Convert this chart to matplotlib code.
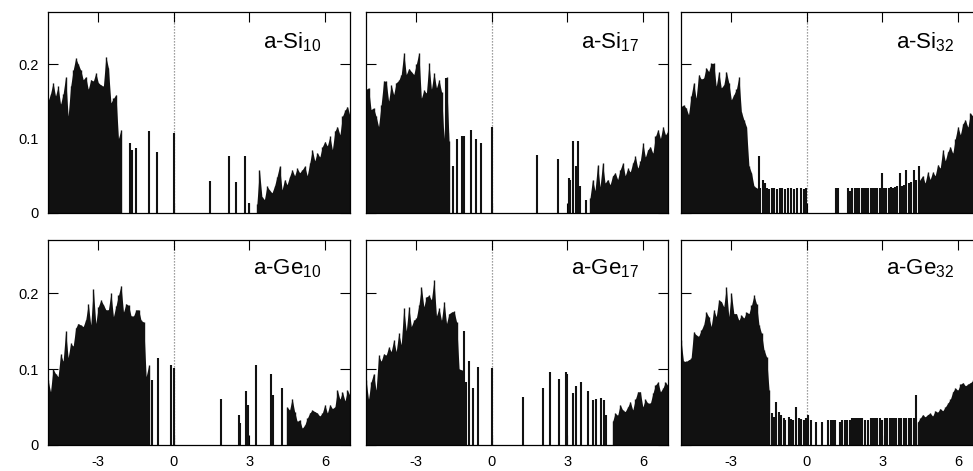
import numpy as np
import matplotlib
matplotlib.use('Agg')
import matplotlib.pyplot as plt

plt.rcParams['font.family'] = ['Liberation Sans', 'DejaVu Sans']
plt.rcParams['mathtext.fontset'] = 'custom'
plt.rcParams['mathtext.rm'] = 'Liberation Sans'
plt.rcParams['mathtext.it'] = 'Liberation Sans:italic'
plt.rcParams['axes.unicode_minus'] = False

step = 0.1  # energy grid of the dense bands (eV)

# ---- a-Si10 ----
si10_vb_start = -5.0
si10_vb = [0.150, 0.160, 0.175, 0.157, 0.170, 0.146, 0.160, 0.183, 0.130, 0.170,
           0.192, 0.208, 0.200, 0.192, 0.179, 0.183, 0.166, 0.179, 0.177, 0.188,
           0.175, 0.172, 0.170, 0.210, 0.195, 0.148, 0.154, 0.159, 0.100, 0.112]
si10_cb_start = 3.3
si10_cb = [0.012, 0.058, 0.022, 0.018, 0.036, 0.031, 0.027, 0.036, 0.049, 0.063,
           0.031, 0.045, 0.038, 0.049, 0.058, 0.050, 0.060, 0.054, 0.058, 0.063,
           0.050, 0.067, 0.085, 0.070, 0.081, 0.075, 0.089, 0.096, 0.090, 0.103,
           0.085, 0.110, 0.116, 0.105, 0.130, 0.138, 0.143, 0.130]
si10_sp_x = [-1.75, -1.65, -1.5, -0.99, -0.66, 0.0, 1.45, 2.21, 2.49, 2.83, 2.99]
si10_sp_h = [0.094, 0.084, 0.087, 0.110, 0.082, 0.108, 0.043, 0.077, 0.041, 0.077, 0.013]

# ---- a-Si17 ----
si17_vb_start = -5.0
si17_vb = [0.166, 0.168, 0.139, 0.141, 0.130, 0.116, 0.145, 0.177, 0.177, 0.150,
           0.172, 0.159, 0.175, 0.178, 0.186, 0.215, 0.186, 0.194, 0.190, 0.186,
           0.200, 0.215, 0.154, 0.165, 0.161, 0.201, 0.166, 0.188, 0.168, 0.179,
           0.163, 0.100, 0.183, 0.097]
si17_cb_start = 3.9
si17_cb = [0.020, 0.045, 0.030, 0.065, 0.035, 0.067, 0.040, 0.045, 0.038, 0.050,
           0.054, 0.045, 0.058, 0.067, 0.050, 0.060, 0.055, 0.067, 0.076, 0.060,
           0.070, 0.094, 0.075, 0.085, 0.089, 0.080, 0.103, 0.112, 0.100, 0.116,
           0.105, 0.110]
si17_sp_x = [-1.83, -1.73, -1.56, -1.40, -1.20, -1.10, -0.81, -0.61, -0.45, 0.0,
             1.80, 2.61, 3.07, 3.12, 3.23, 3.33, 3.43, 3.52, 3.76]
si17_sp_h = [0.182, 0.107, 0.063, 0.099, 0.103, 0.103, 0.112, 0.099, 0.094, 0.115,
             0.078, 0.073, 0.047, 0.045, 0.097, 0.063, 0.097, 0.036, 0.018]

# ---- a-Si32 ----
si32_vb_start = -5.0
si32_vb = [0.143, 0.145, 0.141, 0.132, 0.157, 0.175, 0.154, 0.186, 0.180, 0.181,
           0.195, 0.190, 0.201, 0.201, 0.170, 0.190, 0.168, 0.172, 0.190, 0.175,
           0.152, 0.159, 0.166, 0.183, 0.136, 0.125, 0.116, 0.063, 0.054, 0.036,
           0.034]
si32_cb_start = 4.5
si32_cb = [0.045, 0.050, 0.040, 0.055, 0.045, 0.055, 0.050, 0.065, 0.060, 0.085,
           0.070, 0.082, 0.089, 0.080, 0.100, 0.116, 0.105, 0.120, 0.125, 0.115,
           0.134, 0.130, 0.140]
si32_sp_x = [-1.92, -1.85, -1.75, -1.65, -1.58, -1.5, -1.4, -1.3, -1.2, -1.08,
             -0.98, -0.85, -0.75, -0.62, -0.5, -0.38, -0.25, -0.12, -0.02,
             1.15, 1.22, 1.65, 1.72, 1.8, 1.9, 2.0, 2.08, 2.18, 2.28, 2.35,
             2.45, 2.55, 2.62, 2.72, 2.8, 2.9, 2.98, 3.08, 3.15, 3.25, 3.35,
             3.42, 3.5, 3.6, 3.7, 3.78, 3.85, 3.95, 4.05, 4.15, 4.25, 4.35, 4.45]
si32_sp_h = [0.076, 0.034, 0.045, 0.040, 0.034, 0.032, 0.033, 0.033, 0.032, 0.033,
             0.033, 0.032, 0.033, 0.033, 0.032, 0.033, 0.033, 0.032, 0.034,
             0.033, 0.033, 0.033, 0.030, 0.033, 0.033, 0.033, 0.033, 0.034, 0.033, 0.033,
             0.033, 0.034, 0.033, 0.033, 0.033, 0.034, 0.054, 0.034, 0.033, 0.034, 0.035,
             0.034, 0.035, 0.036, 0.054, 0.036, 0.037, 0.058, 0.040, 0.042, 0.058, 0.045, 0.063]

# ---- a-Ge10 ----
ge10_vb_start = -5.0
ge10_vb = [0.086, 0.070, 0.100, 0.094, 0.090, 0.120, 0.110, 0.150, 0.115, 0.134,
           0.130, 0.154, 0.160, 0.158, 0.156, 0.165, 0.186, 0.158, 0.206, 0.160,
           0.182, 0.191, 0.185, 0.178, 0.178, 0.200, 0.169, 0.183, 0.197, 0.210,
           0.175, 0.186, 0.184, 0.170, 0.170, 0.178, 0.178, 0.164, 0.162, 0.090,
           0.105]
ge10_cb_start = 4.5
ge10_cb = [0.050, 0.046, 0.061, 0.044, 0.031, 0.033, 0.022, 0.026, 0.035, 0.042,
           0.046, 0.044, 0.042, 0.038, 0.042, 0.053, 0.042, 0.053, 0.048, 0.050,
           0.072, 0.060, 0.070, 0.058, 0.072, 0.065]
ge10_sp_x = [-0.88, -0.63, -0.11, 0.0, 1.89, 2.57, 2.64, 2.87, 2.96, 3.26, 3.86, 3.93, 4.28]
ge10_sp_h = [0.086, 0.115, 0.105, 0.102, 0.061, 0.040, 0.029, 0.071, 0.053, 0.106, 0.094, 0.066, 0.075]

# ---- a-Ge17 ----
ge17_vb_start = -5.0
ge17_vb = [0.086, 0.060, 0.083, 0.094, 0.072, 0.118, 0.110, 0.120, 0.118, 0.129,
           0.123, 0.138, 0.123, 0.147, 0.132, 0.180, 0.150, 0.182, 0.156, 0.164,
           0.167, 0.184, 0.208, 0.182, 0.195, 0.197, 0.191, 0.217, 0.170, 0.180,
           0.164, 0.189, 0.160, 0.173, 0.175, 0.176, 0.162, 0.100, 0.099]
ge17_cb_start = 4.8
ge17_cb = [0.031, 0.042, 0.039, 0.053, 0.046, 0.044, 0.050, 0.057, 0.046, 0.060,
           0.070, 0.070, 0.050, 0.060, 0.055, 0.055, 0.068, 0.079, 0.083, 0.070,
           0.075, 0.083, 0.078]
ge17_sp_x = [-1.12, -1.01, -0.9, -0.74, -0.54, 0.0, 1.22, 2.04, 2.3, 2.65, 2.94,
             3.0, 3.23, 3.33, 3.56, 3.81, 4.02, 4.13, 4.35, 4.44, 4.55]
ge17_sp_h = [0.150, 0.083, 0.110, 0.075, 0.103, 0.102, 0.063, 0.075, 0.096, 0.087, 0.096,
             0.093, 0.068, 0.078, 0.083, 0.071, 0.059, 0.061, 0.062, 0.059, 0.039]

# ---- a-Ge32 ----
ge32_vb_start = -5.0
ge32_vb = [0.138, 0.110, 0.110, 0.112, 0.114, 0.149, 0.145, 0.143, 0.151, 0.158,
           0.175, 0.169, 0.156, 0.178, 0.169, 0.191, 0.189, 0.182, 0.208, 0.169,
           0.200, 0.173, 0.173, 0.164, 0.171, 0.167, 0.175, 0.173, 0.184, 0.197,
           0.186, 0.158, 0.147, 0.125, 0.116, 0.072]
ge32_cb_start = 4.4
ge32_cb = [0.030, 0.035, 0.040, 0.037, 0.040, 0.042, 0.038, 0.045, 0.043, 0.048,
           0.045, 0.050, 0.055, 0.060, 0.070, 0.075, 0.072, 0.080, 0.082, 0.078,
           0.080, 0.082, 0.085, 0.085]
ge32_sp_x = [-1.4, -1.32, -1.22, -1.12, -1.02, -0.92, -0.85, -0.72, -0.62, -0.55,
             -0.42, -0.32, -0.22, -0.12, -0.05, 0.06, 0.15, 0.38, 0.62, 0.85,
             0.95, 1.05, 1.12, 1.3, 1.4, 1.5, 1.6, 1.7, 1.78, 1.88,
             1.95, 2.04, 2.12, 2.2, 2.3, 2.42, 2.55, 2.62, 2.7, 2.8,
             2.9, 3.0, 3.1, 3.2, 3.3, 3.4, 3.48, 3.55, 3.65, 3.75,
             3.85, 3.95, 4.05, 4.15, 4.25, 4.33]
ge32_sp_h = [0.042, 0.037, 0.057, 0.044, 0.039, 0.035, 0.033, 0.037, 0.034, 0.033,
             0.050, 0.035, 0.034, 0.033, 0.035, 0.040, 0.033, 0.030, 0.030, 0.033,
             0.033, 0.033, 0.033, 0.030, 0.033, 0.033, 0.033, 0.033, 0.035, 0.035,
             0.035, 0.035, 0.035, 0.035, 0.033, 0.033, 0.035, 0.035, 0.035, 0.035,
             0.036, 0.033, 0.035, 0.035, 0.035, 0.036, 0.035, 0.036, 0.035, 0.036,
             0.036, 0.035, 0.036, 0.035, 0.036, 0.066]

labels = ['a-Si$_{10}$', 'a-Si$_{17}$', 'a-Si$_{32}$',
          'a-Ge$_{10}$', 'a-Ge$_{17}$', 'a-Ge$_{32}$']
panels = [
    (si10_vb_start, si10_vb, si10_cb_start, si10_cb, si10_sp_x, si10_sp_h),
    (si17_vb_start, si17_vb, si17_cb_start, si17_cb, si17_sp_x, si17_sp_h),
    (si32_vb_start, si32_vb, si32_cb_start, si32_cb, si32_sp_x, si32_sp_h),
    (ge10_vb_start, ge10_vb, ge10_cb_start, ge10_cb, ge10_sp_x, ge10_sp_h),
    (ge17_vb_start, ge17_vb, ge17_cb_start, ge17_cb, ge17_sp_x, ge17_sp_h),
    (ge32_vb_start, ge32_vb, ge32_cb_start, ge32_cb, ge32_sp_x, ge32_sp_h),
]

ink = '#111111'
W, H = 973, 471
fig = plt.figure(figsize=(W / 100, H / 100), dpi=100)

lefts = [48, 366, 681]          # pixel positions of the panels
rows = [(12, 213), (240, 445)]  # (top, bottom) in pixels
pw = 302

for i, (vs, vb, cs, cb, spx, sph) in enumerate(panels):
    r, c = divmod(i, 3)
    top, bot = rows[r]
    ax = fig.add_axes([lefts[c] / W, 1 - bot / H, pw / W, (bot - top) / H])

    ax.axvline(0, color='#808080', ls=(0, (1, 1.4)), lw=0.9, zorder=1)
    for start, h in ((vs, vb), (cs, cb)):
        e = start + step * np.arange(len(h))
        ax.fill_between(e, h, color=ink, lw=0, zorder=2)
        ax.vlines(e, 0, h, color=ink, lw=1.0, zorder=2)
    ax.vlines(spx, 0, sph, color=ink, lw=1.5, zorder=2)

    ax.set_xlim(-5, 7)
    ax.set_ylim(0, 0.27)
    ax.set_xticks([-3, 0, 3, 6])
    ax.set_yticks([0, 0.1, 0.2])
    ax.tick_params(direction='in', top=True, right=True, length=7, width=0.8,
                   labelsize=10.5, pad=7, colors='black')
    if c == 0:
        ax.set_yticklabels(['0', '0.1', '0.2'])
    else:
        ax.set_yticklabels([])
    if r == 1:
        ax.set_xticklabels(['-3', '0', '3', '6'])
    else:
        ax.set_xticklabels([])
    for s in ax.spines.values():
        s.set_linewidth(0.9)
    ax.text(0.905, 0.82 if r == 0 else 0.83, labels[i], transform=ax.transAxes,
            ha='right', va='baseline', fontsize=16)

fig.savefig('out.png', dpi=100)
